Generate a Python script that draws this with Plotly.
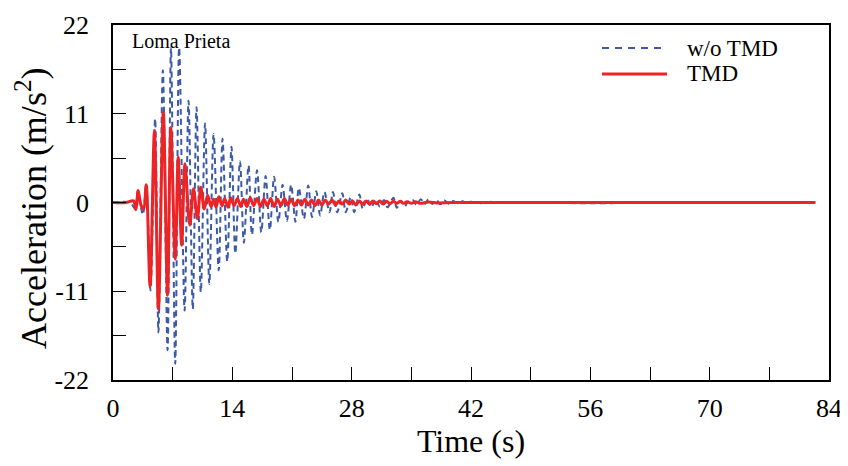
import plotly.graph_objects as go

# ---- data (time in s, acceleration in m/s^2) ----
t_wo = [0, 2.0, 2.6, 2.9, 3.5, 3.9, 4.4, 4.94, 5.33, 5.85, 6.4, 6.8, 7.3, 7.76, 8.4, 8.86,
        9.36, 9.8, 10.3, 10.8, 11.3, 11.8, 12.4, 12.85, 13.4, 13.9, 14.35, 14.9, 15.35, 15.9,
        16.3, 16.9, 17.4, 17.9, 18.4, 18.9, 19.4, 19.9, 20.4, 20.9, 21.4, 21.8, 22.4, 22.9,
        23.35, 23.85, 24.3, 24.8, 25.4, 25.8, 26.3, 26.9, 27.3, 27.9, 28.3, 28.9, 29.3, 29.8,
        30.3, 30.8, 31.3, 31.8, 32.2, 32.9, 33.3, 33.8, 34.2, 34.7, 35.2, 35.6, 36.1, 36.6,
        37.0, 37.5, 37.9, 38.4, 38.9, 39.4, 39.9, 40.4, 41.0, 41.5, 42.0, 43.0, 44.0, 45.0, 82.4]
a_wo = [0, 0, -0.8, 1.4, -1.5, 2.3, -10.9, 10.4, -16.1, 16.4, -18.3, 19.2, -20.0, 19.2, -13.4, 12.6,
        -13.2, 11.8, -11.1, 9.8, -10.1, 8.5, -8.4, 7.9, -7.3, 6.9, -6.3, 5.1, -5.0, 4.6,
        -4.0, 4.0, -3.7, 3.3, -3.4, 3.2, -2.4, 2.2, -2.3, 2.2, -2.4, 1.8, -2.0, 2.1,
        -1.8, 1.4, -1.6, 1.3, -1.2, 1.3, -1.2, 1.15, -1.2, 0.7, -1.2, 1.0, -0.8, 0.5,
        -0.6, 0.4, -0.5, 0.3, -0.6, 0.6, -0.65, 0.2, -0.5, 0.2, 0.3, -0.3, 0.4, -0.2,
        0.4, -0.2, 0.35, -0.2, 0.25, -0.15, 0.2, -0.1, 0.15, -0.1, 0.1, -0.1, 0.1, 0, 0]

t_tmd = [0, 1.5, 2.4, 2.7, 2.95, 3.3, 3.6, 3.9, 4.35, 4.86, 5.33, 5.9, 6.4, 6.78, 7.3, 7.65,
         8.05, 8.45, 9.0, 9.45, 9.9, 10.3, 10.7, 11.1, 11.5, 11.8, 12.1, 12.4, 12.8, 13.1,
         13.5, 13.8, 14.2, 14.6, 15.0, 15.3, 15.7, 16.1, 16.5, 16.9, 17.3, 17.7, 18.1, 18.5,
         18.9, 19.3, 19.7, 20.1, 20.5, 20.9, 21.3, 21.7, 22.1, 22.5, 22.9, 23.3, 23.7, 24.1,
         24.5, 24.9, 25.3, 25.7, 26.1, 26.5, 26.9, 27.3, 27.7, 28.1, 28.5, 28.9, 29.3, 29.7,
         30.1, 30.5, 30.9, 31.3, 31.7, 32.1, 32.5, 32.9, 33.3, 33.7, 34.1, 34.5, 35.0, 35.5,
         36.0, 37.0, 38.0, 40.0, 82.4]
a_tmd = [0, 0, 0.2, -0.9, 1.5, -0.4, -0.8, 2.2, -10.4, 8.9, -13.2, 11.2, -11.5, 9.3, -7.0, 5.6,
         -5.3, 4.8, -2.8, 1.7, -2.0, 1.9, -0.8, 0.9, -0.5, 0.4, -0.6, 0.7, -0.4, 0.5,
         -0.6, 0.6, -0.4, 0.5, -0.5, 0.4, -0.5, 0.6, -0.4, 0.5, -0.5, 0.4, -0.4, 0.5,
         -0.5, 0.4, -0.4, 0.5, -0.3, 0.4, -0.4, 0.3, -0.3, 0.4, -0.3, 0.3, -0.4, 0.3,
         -0.3, 0.3, -0.2, 0.3, -0.3, 0.2, -0.2, 0.3, -0.2, 0.2, -0.3, 0.2, -0.2, 0.2,
         -0.2, 0.2, -0.15, 0.2, -0.2, 0.15, -0.15, 0.15, -0.1, 0.15, -0.1, 0.1, -0.1, 0.1,
         -0.1, 0.05, -0.05, 0, 0]

x_ticks = [0, 14, 28, 42, 56, 70, 84]
y_ticks = [-22, -11, 0, 11, 22]
series_names = ["w/o TMD", "TMD"]
event_name = "Loma Prieta"

BLUE = "#3d5aa8"
RED = "#ee2325"
FONT = "Liberation Serif"

# plot area in figure pixels (page body adds an 8px offset on screen)
OFF = 8
L, R, T, B = 113 - OFF, 829 - OFF, 25 - OFF, 380 - OFF
PW, PH = R - L, B - T

def px(xs):
    return (xs - OFF - L) / PW

def py(ys):
    return (B - (ys - OFF)) / PH

fig = go.Figure()
fig.add_trace(go.Scatter(x=t_wo, y=a_wo, mode="lines", name=series_names[0],
                         line=dict(color=BLUE, width=2, dash="6px,4px", shape="spline", smoothing=0.9),
                         showlegend=False))
fig.add_trace(go.Scatter(x=t_tmd, y=a_tmd, mode="lines", name=series_names[1],
                         line=dict(color=RED, width=3, shape="spline", smoothing=0.9),
                         showlegend=False))

# manual legend (line samples + labels), positions given in screen pixels
fig.add_shape(type="line", xref="paper", yref="paper", x0=px(602), x1=px(667),
              y0=py(48), y1=py(48), line=dict(color=BLUE, width=2, dash="7px,6px"))
fig.add_shape(type="line", xref="paper", yref="paper", x0=px(602), x1=px(667),
              y0=py(74), y1=py(74), line=dict(color=RED, width=3))
fig.add_annotation(xref="paper", yref="paper", x=px(685), y=py(48), text=series_names[0],
                   showarrow=False, xanchor="left", yanchor="middle", font=dict(size=23, color="black", family=FONT))
fig.add_annotation(xref="paper", yref="paper", x=px(685), y=py(73), text=series_names[1],
                   showarrow=False, xanchor="left", yanchor="middle", font=dict(size=23, color="black", family=FONT))
fig.add_annotation(xref="paper", yref="paper", x=px(130), y=py(41), text=event_name,
                   showarrow=False, xanchor="left", yanchor="middle", font=dict(size=20, color="black", family=FONT))
# y-axis title
fig.add_annotation(xref="paper", yref="paper", x=px(31), y=py(209), text="Acceleration (m/s<sup>2</sup>)",
                   textangle=-90, showarrow=False, xanchor="center", yanchor="middle", borderpad=0,
                   font=dict(size=36, color="black", family=FONT))

axis_common = dict(showgrid=False, zeroline=False, showline=True, linecolor="black", linewidth=1.5,
                   mirror=True, ticks="inside", ticklen=13, tickwidth=1, tickcolor="black",
                   tickfont=dict(size=26, family=FONT, color="black"), automargin=False)
fig.update_xaxes(range=[0, 84], tickvals=x_ticks, ticktext=[str(v) for v in x_ticks],
                 minor=dict(dtick=7, tick0=0, ticks="inside", ticklen=13, tickwidth=1, tickcolor="black"),
                 title=dict(text="Time (s)", font=dict(size=32, family=FONT, color="black"), standoff=0),
                 ticklabelstandoff=4, **axis_common)
fig.update_yaxes(range=[-22, 22], tickvals=y_ticks, ticktext=[str(v) for v in y_ticks],
                 minor=dict(dtick=5.5, tick0=0, ticks="inside", ticklen=13, tickwidth=1, tickcolor="black"),
                 ticklabelstandoff=17, **axis_common)

fig.update_layout(width=848, height=466, margin=dict(l=L, r=848 - R, t=T, b=466 - B),
                  plot_bgcolor="white", paper_bgcolor="white", showlegend=False,
                  font=dict(family=FONT, color="black"))

fig.write_html("out.html")
